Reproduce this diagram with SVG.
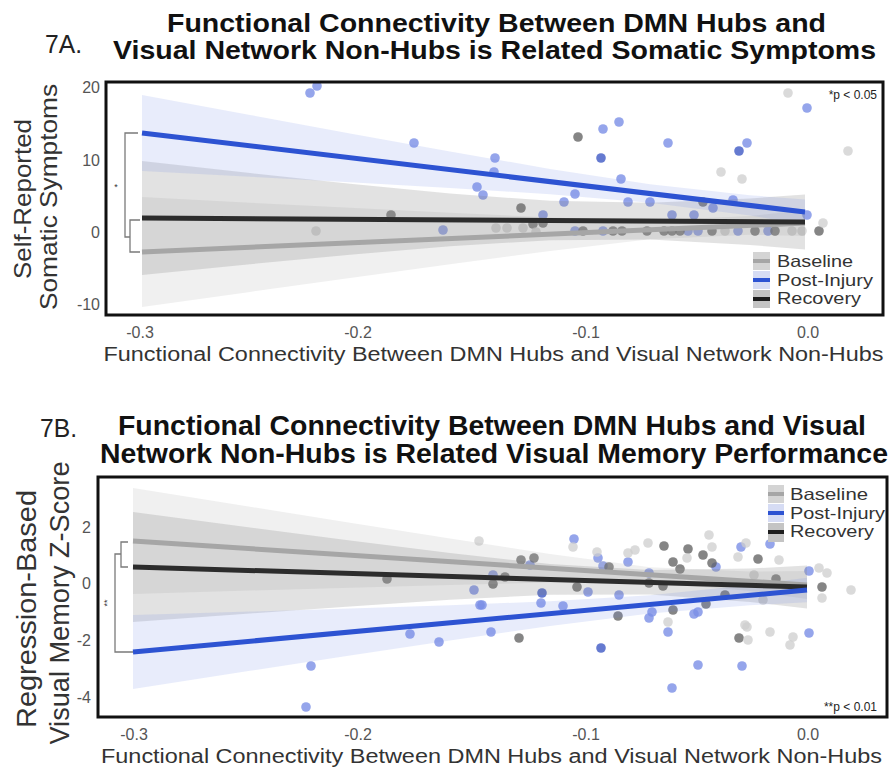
<svg xmlns="http://www.w3.org/2000/svg" width="892" height="770" viewBox="0 0 892 770">
<style>
text{font-family:"Liberation Sans",Arial,sans-serif}
.ttl{font-weight:bold;font-size:25px;fill:#111}
.ttlb{font-weight:bold;font-size:27px;fill:#111}
.lab{font-size:25px;fill:#222}
.tick{font-size:16px;fill:#555}
.axt{font-size:20px;fill:#333}
.yt{font-size:24px;fill:#333}
.ytb{font-size:27px;fill:#333}
.leg{font-size:16.5px;fill:#333}
.pv{font-size:12px;fill:#222}
.frame{fill:none;stroke:#111;stroke-width:3}
.b{fill:#7a8fe6;fill-opacity:.8}
.n{fill:#4a63c8;fill-opacity:.85}
.d{fill:#5c5c5c;fill-opacity:.75}
.l{fill:#cdcdcd;fill-opacity:.75}
.bandB{fill:#6f86e6;fill-opacity:.16}
.bandR{fill:#7a7a7a;fill-opacity:.22}
.bandG{fill:#b5b5b5;fill-opacity:.2}
.lnB{stroke:#2d53d2;stroke-width:5;fill:none}
.lnR{stroke:#2c2c2c;stroke-width:5;fill:none}
.lnG{stroke:#a6a6a6;stroke-width:5;fill:none}
.br{fill:none;stroke:#7a7a7a;stroke-width:1.3}
</style>
<rect width="892" height="770" fill="#fff"/>

<g id="panel-a">
  <text class="lab" x="45" y="53" textLength="37" lengthAdjust="spacingAndGlyphs">7A.</text>
  <text class="ttl" x="496.5" y="32" text-anchor="middle" textLength="659" lengthAdjust="spacingAndGlyphs">Functional Connectivity Between DMN Hubs and</text>
  <text class="ttl" x="494.5" y="59" text-anchor="middle" textLength="763" lengthAdjust="spacingAndGlyphs">Visual Network Non-Hubs is Related Somatic Symptoms</text>

  <g id="a-points">
    <circle class="b" cx="310" cy="93" r="4.8"/><circle class="b" cx="317" cy="86" r="4.8"/>
    <circle class="b" cx="414" cy="143" r="4.8"/><circle class="b" cx="495" cy="158" r="4.8"/>
    <circle class="b" cx="494" cy="172" r="4.8"/><circle class="b" cx="477" cy="187" r="4.8"/>
    <circle class="b" cx="483" cy="195" r="4.8"/><circle class="b" cx="603" cy="129" r="4.8"/>
    <circle class="b" cx="619" cy="122" r="4.8"/><circle class="b" cx="668" cy="143" r="4.8"/>
    <circle class="b" cx="747" cy="143" r="4.8"/><circle class="b" cx="621" cy="179" r="4.8"/>
    <circle class="b" cx="564" cy="202" r="4.8"/><circle class="b" cx="575" cy="194" r="4.8"/>
    <circle class="b" cx="628" cy="202" r="4.8"/><circle class="b" cx="650" cy="202" r="4.8"/>
    <circle class="b" cx="543" cy="215" r="4.8"/><circle class="b" cx="672" cy="215" r="4.8"/>
    <circle class="b" cx="694" cy="215" r="4.8"/><circle class="b" cx="713" cy="208" r="4.8"/>
    <circle class="b" cx="733" cy="200" r="4.8"/><circle class="b" cx="807" cy="215" r="4.8"/>
    <circle class="b" cx="807" cy="108" r="4.8"/><circle class="b" cx="443" cy="230" r="4.8"/>
    <circle class="b" cx="575" cy="231" r="4.8"/><circle class="b" cx="603" cy="231" r="4.8"/>
    <circle class="b" cx="688" cy="231" r="4.8"/><circle class="b" cx="698" cy="231" r="4.8"/>
    <circle class="b" cx="738" cy="231" r="4.8"/><circle class="b" cx="768" cy="231" r="4.8"/>
    <circle class="n" cx="601" cy="158" r="4.8"/><circle class="n" cx="739" cy="151" r="4.8"/>
    <circle class="d" cx="578" cy="137" r="4.8"/><circle class="d" cx="391" cy="215" r="4.8"/>
    <circle class="d" cx="521" cy="208" r="4.8"/><circle class="d" cx="543" cy="223" r="4.8"/>
    <circle class="d" cx="703" cy="202" r="4.8"/><circle class="d" cx="819" cy="231" r="4.8"/>
    <circle class="d" cx="583" cy="231" r="4.8"/><circle class="d" cx="613" cy="231" r="4.8"/>
    <circle class="d" cx="622" cy="231" r="4.8"/><circle class="d" cx="647" cy="231" r="4.8"/>
    <circle class="d" cx="664" cy="231" r="4.8"/><circle class="d" cx="672" cy="231" r="4.8"/>
    <circle class="d" cx="680" cy="231" r="4.8"/><circle class="d" cx="712" cy="231" r="4.8"/>
    <circle class="d" cx="755" cy="231" r="4.8"/><circle class="d" cx="775" cy="231" r="4.8"/>
    <circle class="d" cx="533" cy="224" r="4.8"/>
    <circle class="l" cx="788" cy="93" r="4.8"/><circle class="l" cx="848" cy="151" r="4.8"/>
    <circle class="l" cx="721" cy="172" r="4.8"/><circle class="l" cx="742" cy="179" r="4.8"/>
    <circle class="l" cx="316" cy="231" r="4.8"/><circle class="l" cx="823" cy="223" r="4.8"/>
    <circle class="l" cx="496" cy="228" r="4.8"/><circle class="l" cx="507" cy="228" r="4.8"/>
    <circle class="l" cx="523" cy="228" r="4.8"/><circle class="l" cx="536" cy="232" r="4.8"/>
    <circle class="l" cx="725" cy="231" r="4.8"/><circle class="l" cx="792" cy="231" r="4.8"/>
    <circle class="l" cx="802" cy="231" r="4.8"/>
  </g>

  <g id="a-bands">
    <polygon class="bandG" points="142,197 250,202.7 350,207.8 450,212.8 550,217.5 650,220.4 750,216 805,210 805,236 750,234.8 650,239.2 550,250.9 450,264.2 350,278 250,291.9 142,307"/>
    <polygon class="bandR" points="142,161 250,173.1 350,183.8 450,193.6 550,200.8 650,202.8 750,198.5 805,194.4 805,249.6 750,244.9 650,239.4 550,240.2 450,246.2 350,254.7 250,264.2 142,275"/>
    <polygon class="bandB" points="142,95 250,115 350,133.4 450,151.5 550,168.9 650,184.3 750,195.2 805,199.6 805,224.4 750,215.6 650,202.7 550,194.3 450,187.9 350,182.2 250,176.8 142,171"/>
  </g>
  <g id="a-lines">
    <line class="lnG" x1="142" y1="252" x2="805" y2="223"/>
    <line class="lnR" x1="142" y1="218" x2="805" y2="222"/>
    <line class="lnB" x1="142" y1="133" x2="805" y2="212"/>
  </g>
  <g id="a-bracket">
    <path class="br" d="M138,133 H125 V237 H130"/>
    <path class="br" d="M140,220 H130 V252 H140"/>
    <text x="116" y="190" font-size="9" fill="#333" text-anchor="middle">*</text>
  </g>

  <rect class="frame" x="106" y="82" width="777" height="233"/>
  <text class="pv" x="877" y="99" text-anchor="end">*p &lt; 0.05</text>

  <g id="a-legend">
    <rect x="753" y="252" width="17" height="18" fill="#d4d4d4"/>
    <line x1="753" y1="261" x2="770" y2="261" stroke="#a6a6a6" stroke-width="4"/>
    <rect x="753" y="271" width="17" height="18" fill="#d6dcf4"/>
    <line x1="753" y1="280" x2="770" y2="280" stroke="#2d53d2" stroke-width="4"/>
    <rect x="753" y="290" width="17" height="18" fill="#c4c4c4"/>
    <line x1="753" y1="299" x2="770" y2="299" stroke="#1e1e1e" stroke-width="4"/>
    <text class="leg" x="777" y="267" textLength="76" lengthAdjust="spacingAndGlyphs">Baseline</text>
    <text class="leg" x="777" y="286" textLength="96" lengthAdjust="spacingAndGlyphs">Post-Injury</text>
    <text class="leg" x="777" y="304" textLength="84" lengthAdjust="spacingAndGlyphs">Recovery</text>
  </g>

  <g id="a-axes">
    <text class="tick" x="100" y="93" text-anchor="end">20</text>
    <text class="tick" x="100" y="166" text-anchor="end">10</text>
    <text class="tick" x="100" y="238" text-anchor="end">0</text>
    <text class="tick" x="100" y="310" text-anchor="end">-10</text>
    <text class="tick" x="140" y="338" text-anchor="middle">-0.3</text>
    <text class="tick" x="358" y="338" text-anchor="middle">-0.2</text>
    <text class="tick" x="586" y="338" text-anchor="middle">-0.1</text>
    <text class="tick" x="808" y="338" text-anchor="middle">0.0</text>
    <text class="axt" x="493.5" y="361" text-anchor="middle" textLength="780" lengthAdjust="spacingAndGlyphs">Functional Connectivity Between DMN Hubs and Visual Network Non-Hubs</text>
    <text class="yt" transform="translate(31,199) rotate(-90)" text-anchor="middle" textLength="160" lengthAdjust="spacingAndGlyphs">Self-Reported</text>
    <text class="yt" transform="translate(57,197) rotate(-90)" text-anchor="middle" textLength="226" lengthAdjust="spacingAndGlyphs">Somatic Symptoms</text>
  </g>
</g>

<g id="panel-b">
  <text class="lab" x="40" y="437" textLength="37" lengthAdjust="spacingAndGlyphs">7B.</text>
  <text class="ttlb" x="492" y="435" text-anchor="middle" textLength="748" lengthAdjust="spacingAndGlyphs">Functional Connectivity Between DMN Hubs and Visual</text>
  <text class="ttlb" x="494" y="463" text-anchor="middle" textLength="788" lengthAdjust="spacingAndGlyphs">Network Non-Hubs is Related Visual Memory Performance</text>

  <g id="b-points">
    <circle class="b" cx="574" cy="539" r="4.8"/><circle class="b" cx="530" cy="565" r="4.8"/>
    <circle class="b" cx="482" cy="605" r="4.8"/><circle class="b" cx="491" cy="632" r="4.8"/>
    <circle class="b" cx="541" cy="603" r="4.8"/><circle class="b" cx="563" cy="606" r="4.8"/>
    <circle class="b" cx="588" cy="592" r="4.8"/><circle class="b" cx="598" cy="558" r="4.8"/>
    <circle class="b" cx="603" cy="566" r="4.8"/><circle class="b" cx="628" cy="562" r="4.8"/>
    <circle class="b" cx="619" cy="595" r="4.8"/><circle class="b" cx="649" cy="573" r="4.8"/>
    <circle class="b" cx="652" cy="612" r="4.8"/><circle class="b" cx="649" cy="618" r="4.8"/>
    <circle class="b" cx="668" cy="632" r="4.8"/><circle class="b" cx="694" cy="614" r="4.8"/>
    <circle class="b" cx="698" cy="612" r="4.8"/><circle class="b" cx="716" cy="567" r="4.8"/>
    <circle class="b" cx="698" cy="665" r="4.8"/><circle class="b" cx="672" cy="688" r="4.8"/>
    <circle class="b" cx="741" cy="547" r="4.8"/><circle class="b" cx="770" cy="544" r="4.8"/>
    <circle class="b" cx="742" cy="666" r="4.8"/><circle class="b" cx="809" cy="633" r="4.8"/>
    <circle class="b" cx="809" cy="571" r="4.8"/><circle class="b" cx="474" cy="590" r="4.8"/>
    <circle class="b" cx="480" cy="605" r="4.8"/><circle class="b" cx="410" cy="634" r="4.8"/>
    <circle class="b" cx="439" cy="642" r="4.8"/><circle class="b" cx="311" cy="666" r="4.8"/>
    <circle class="b" cx="306" cy="707" r="4.8"/><circle class="b" cx="493" cy="575" r="4.8"/>
    <circle class="n" cx="542" cy="593" r="4.8"/><circle class="n" cx="601" cy="648" r="4.8"/>
    <circle class="d" cx="387" cy="579" r="4.8"/><circle class="d" cx="493" cy="584" r="4.8"/>
    <circle class="d" cx="521" cy="560" r="4.8"/><circle class="d" cx="534" cy="558" r="4.8"/>
    <circle class="d" cx="505" cy="577" r="4.8"/><circle class="d" cx="519" cy="638" r="4.8"/>
    <circle class="d" cx="577" cy="587" r="4.8"/><circle class="d" cx="609" cy="567" r="4.8"/>
    <circle class="d" cx="618" cy="616" r="4.8"/><circle class="d" cx="664" cy="546" r="4.8"/>
    <circle class="d" cx="673" cy="562" r="4.8"/><circle class="d" cx="680" cy="569" r="4.8"/>
    <circle class="d" cx="649" cy="583" r="4.8"/><circle class="d" cx="663" cy="586" r="4.8"/>
    <circle class="d" cx="673" cy="610" r="4.8"/><circle class="d" cx="688" cy="549" r="4.8"/>
    <circle class="d" cx="703" cy="555" r="4.8"/><circle class="d" cx="712" cy="563" r="4.8"/>
    <circle class="d" cx="706" cy="604" r="4.8"/><circle class="d" cx="758" cy="559" r="4.8"/>
    <circle class="d" cx="776" cy="579" r="4.8"/><circle class="d" cx="739" cy="638" r="4.8"/>
    <circle class="d" cx="822" cy="587" r="4.8"/><circle class="d" cx="725" cy="595" r="4.8"/>
    <circle class="l" cx="479" cy="541" r="4.8"/><circle class="l" cx="573" cy="547" r="4.8"/>
    <circle class="l" cx="597" cy="552" r="4.8"/><circle class="l" cx="628" cy="553" r="4.8"/>
    <circle class="l" cx="635" cy="550" r="4.8"/><circle class="l" cx="648" cy="543" r="4.8"/>
    <circle class="l" cx="668" cy="622" r="4.8"/><circle class="l" cx="709" cy="535" r="4.8"/>
    <circle class="l" cx="712" cy="547" r="4.8"/><circle class="l" cx="687" cy="558" r="4.8"/>
    <circle class="l" cx="746" cy="543" r="4.8"/><circle class="l" cx="738" cy="557" r="4.8"/>
    <circle class="l" cx="779" cy="560" r="4.8"/><circle class="l" cx="754" cy="575" r="4.8"/>
    <circle class="l" cx="763" cy="600" r="4.8"/><circle class="l" cx="745" cy="625" r="4.8"/>
    <circle class="l" cx="748" cy="640" r="4.8"/><circle class="l" cx="770" cy="632" r="4.8"/>
    <circle class="l" cx="793" cy="637" r="4.8"/><circle class="l" cx="790" cy="645" r="4.8"/>
    <circle class="l" cx="819" cy="568" r="4.8"/><circle class="l" cx="827" cy="573" r="4.8"/>
    <circle class="l" cx="822" cy="598" r="4.8"/><circle class="l" cx="851" cy="590" r="4.8"/>
    <circle class="l" cx="747" cy="627" r="4.8"/>
  </g>

  <g id="b-bands">
    <polygon class="bandG" points="133,488 250,506.7 350,522.7 450,538.5 550,553.9 650,567.2 750,571.6 807,570.9 807,599.1 750,591 650,582.4 550,582.5 450,584.9 350,587.7 250,590.5 133,594"/>
    <polygon class="bandR" points="133,512 250,527.5 350,540.4 450,553 550,564.1 650,570.1 750,568.6 807,565.6 807,608.4 750,602 650,594.5 550,594.7 450,599.8 350,606.4 250,613.5 133,622"/>
    <polygon class="bandB" points="133,615 250,611.6 350,608.6 450,605.2 550,601.2 650,595.2 750,585.1 807,577.7 807,602.3 750,605.3 650,613.6 550,626 450,640.4 350,655.4 250,670.8 133,689"/>
  </g>
  <g id="b-lines">
    <line class="lnG" x1="133" y1="541" x2="807" y2="585"/>
    <line class="lnR" x1="133" y1="567" x2="807" y2="587"/>
    <line class="lnB" x1="133" y1="652" x2="807" y2="590"/>
  </g>
  <g id="b-bracket">
    <path class="br" d="M128,542 H121 V567 H128"/>
    <path class="br" d="M121,554 H115 V652 H133"/>
    <text transform="translate(110,603) rotate(-90)" font-size="9" fill="#333" text-anchor="middle">**</text>
  </g>

  <rect class="frame" x="98" y="477" width="789" height="240"/>
  <text class="pv" x="877" y="711" text-anchor="end">**p &lt; 0.01</text>

  <g id="b-legend">
    <rect x="768" y="485" width="16" height="18" fill="#d4d4d4"/>
    <line x1="768" y1="494" x2="784" y2="494" stroke="#a6a6a6" stroke-width="4"/>
    <rect x="768" y="504" width="16" height="18" fill="#d6dcf4"/>
    <line x1="768" y1="513" x2="784" y2="513" stroke="#2d53d2" stroke-width="4"/>
    <rect x="768" y="523" width="16" height="19" fill="#c4c4c4"/>
    <line x1="768" y1="532" x2="784" y2="532" stroke="#1e1e1e" stroke-width="4"/>
    <text class="leg" x="790" y="500" textLength="78" lengthAdjust="spacingAndGlyphs">Baseline</text>
    <text class="leg" x="790" y="519" textLength="95" lengthAdjust="spacingAndGlyphs">Post-Injury</text>
    <text class="leg" x="790" y="537" textLength="84" lengthAdjust="spacingAndGlyphs">Recovery</text>
  </g>

  <g id="b-axes">
    <text class="tick" x="91" y="533" text-anchor="end">2</text>
    <text class="tick" x="91" y="589" text-anchor="end">0</text>
    <text class="tick" x="91" y="646" text-anchor="end">-2</text>
    <text class="tick" x="91" y="703" text-anchor="end">-4</text>
    <text class="tick" x="134" y="740" text-anchor="middle">-0.3</text>
    <text class="tick" x="358" y="740" text-anchor="middle">-0.2</text>
    <text class="tick" x="586" y="740" text-anchor="middle">-0.1</text>
    <text class="tick" x="808" y="740" text-anchor="middle">0.0</text>
    <text class="axt" x="491.5" y="763" text-anchor="middle" textLength="781" lengthAdjust="spacingAndGlyphs">Functional Connectivity Between DMN Hubs and Visual Network Non-Hubs</text>
    <text class="ytb" transform="translate(36,609) rotate(-90)" text-anchor="middle" textLength="238" lengthAdjust="spacingAndGlyphs">Regression-Based</text>
    <text class="ytb" transform="translate(69,603) rotate(-90)" text-anchor="middle" textLength="283" lengthAdjust="spacingAndGlyphs">Visual Memory Z-Score</text>
  </g>
</g>
</svg>
